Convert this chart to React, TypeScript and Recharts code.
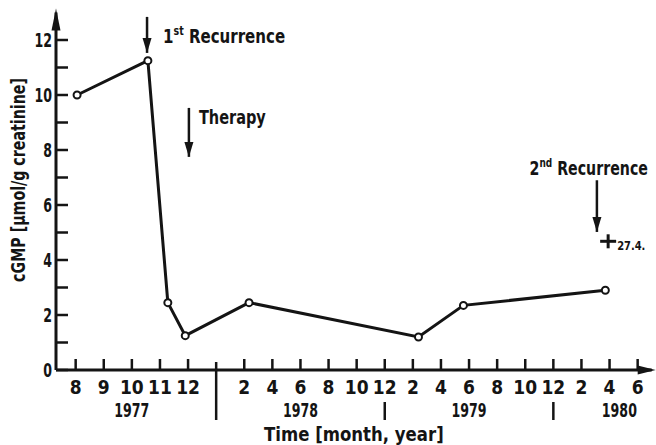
import React from "react";
import { ComposedChart, Line, XAxis, YAxis, ReferenceDot, ReferenceLine, Label } from "recharts";

// x positions are in axis-tick units (the printed time axis is not linear in time)
const xPos = [0.05, 2.57, 3.28, 3.9, 6.17, 12.2, 13.8, 18.85];
const cgmp = [10.0, 11.25, 2.45, 1.25, 2.45, 1.2, 2.35, 2.9];

const monthTickPos = [0, 1, 2, 3, 4, 6, 7, 8, 9, 10, 11, 12, 13, 14, 15, 16, 17, 18, 19, 20];
const monthTickLabels = ["8", "9", "10", "11", "12", "2", "4", "6", "8", "10", "12", "2", "4", "6", "8", "10", "12", "2", "4", "6"];
const yearLabels = ["1977", "1978", "1979", "1980"];
const yearPos = [2, 8, 14, 19.35];
const yearDividerPos = [5, 11, 17];

const yTicks = [0, 1, 2, 3, 4, 5, 6, 7, 8, 9, 10, 11, 12];

const arrowX = [2.54, 4.03, 18.55];
const arrowTop = [12.84, 9.53, 6.9];
const arrowTip = [11.53, 7.75, 5.02];
const arrowMain = ["1", "Therapy", "2"];
const arrowSup = ["st", "", "nd"];
const arrowRest = [" Recurrence", "", " Recurrence"];

const deathX = 18.95;
const deathValue = 4.68;
const deathLabel = "27.4.";

const xLabel = "Time [month, year]";
const yLabel = "cGMP [\u00b5mol/g creatinine]";

const data = xPos.map((x, i) => ({ x, v: cgmp[i] }));

const INK = "#141414";
const FONT = "'DejaVu Sans Condensed', 'DejaVu Sans', sans-serif";
const NARROW = "'Liberation Sans Narrow', 'DejaVu Sans Condensed', 'Roboto', sans-serif";

// horizontally condensed text anchored at (x, y)
const ST = (p: any) => {
  const { x, y, sx = 1, anchor = "start", size = 20, rotate, children } = p;
  const tf = rotate
    ? `translate(${x} ${y}) rotate(${rotate}) scale(${sx} 1)`
    : `matrix(${sx} 0 0 1 ${x * (1 - sx)} 0)`;
  return (
    <text
      x={rotate ? 0 : x}
      y={rotate ? 0 : y}
      transform={tf}
      textAnchor={anchor}
      fontFamily={FONT}
      fontWeight="bold"
      fontSize={size}
      fill={INK}
    >
      {children}
    </text>
  );
};

const TickMark = (props: any) => {
  const { cx, cy } = props;
  return <line x1={cx} x2={cx} y1={cy} y2={cy - 11} stroke={INK} strokeWidth={2.5} />;
};

const makeYearLabel = (label: string) => (props: any) => {
  const { cx, cy } = props;
  return (
    <ST x={cx} y={cy + 47} anchor="middle" sx={0.7}>
      {label}
    </ST>
  );
};

const makeDivider = (first: boolean) => (props: any) => {
  const { cx, cy } = props;
  return <line x1={cx} x2={cx} y1={first ? cy - 8 : cy + 32} y2={cy + 50} stroke={INK} strokeWidth={2.5} />;
};

const renderYTick = (props: any) => {
  const { x, y, payload } = props;
  const v = payload.value;
  return (
    <g key={`yt-${v}`}>
      <line x1={x} x2={x + 12} y1={y} y2={y} stroke={INK} strokeWidth={2.5} />
      {v % 2 === 0 && (
        <ST x={x - 4} y={y + 7.5} anchor="end" sx={0.7}>
          {String(v)}
        </ST>
      )}
    </g>
  );
};

const UpHead = (props: any) => {
  const { cx, cy } = props;
  return <path d={`M${cx - 4.5},${cy + 18} L${cx},${cy - 4} L${cx + 4.5},${cy + 18} Z`} fill={INK} />;
};
const RightHead = (props: any) => {
  const { cx, cy } = props;
  return <path d={`M${cx - 14},${cy - 4.5} L${cx + 4},${cy} L${cx - 14},${cy + 4.5} Z`} fill={INK} />;
};
const DownHead = (props: any) => {
  const { cx, cy } = props;
  return <path d={`M${cx - 4.5},${cy - 15} L${cx},${cy} L${cx + 4.5},${cy - 15} Z`} fill={INK} />;
};

const makeArrowText = (i: number) => (props: any) => {
  const { cx, cy } = props;
  const end = i === 2;
  const tx = end ? cx + 51 : cx + (i === 0 ? 16 : 10);
  const ty = end ? cy - 5 : cy + (i === 0 ? 26 : 16);
  return (
    <ST x={tx} y={ty} anchor={end ? "end" : "start"} size={19} sx={i === 1 ? 0.85 : i === 2 ? 0.83 : 0.88}>
      {arrowMain[i]}
      {arrowSup[i] && (
        <tspan fontSize={12} dy={-8}>
          {arrowSup[i]}
        </tspan>
      )}
      {arrowRest[i] && <tspan dy={arrowSup[i] ? 8 : 0}>{arrowRest[i]}</tspan>}
    </ST>
  );
};

const Cross = (props: any) => {
  const { cx, cy } = props;
  return (
    <g>
      <line x1={cx - 8} x2={cx + 8} y1={cy} y2={cy} stroke={INK} strokeWidth={3} />
      <line x1={cx} x2={cx} y1={cy - 7} y2={cy + 7} stroke={INK} strokeWidth={3} />
      <ST x={cx + 9} y={cy + 9} size={13} sx={0.85}>
        {deathLabel}
      </ST>
    </g>
  );
};

const monthFormatter = (v: number) => {
  const i = monthTickPos.indexOf(v);
  return i >= 0 ? monthTickLabels[i] : "";
};

export default function App() {
  return (
    <div style={{ width: 656, height: 445, background: "#fff" }}>
      <style>{`body{margin:0;background:#fff}`}</style>
      <ComposedChart width={656} height={445} data={data} margin={{ top: 12.5, right: 4.3, left: 16, bottom: 0 }}>
        <XAxis
          dataKey="x"
          type="number"
          domain={[-0.7, 20.5]}
          allowDataOverflow
          ticks={monthTickPos}
          interval={0}
          tickFormatter={monthFormatter}
          tick={{ fontFamily: NARROW, fontWeight: "bold", fontSize: 19, fill: INK }}
          tickLine={false}
          tickSize={0}
          tickMargin={11}
          height={75}
          axisLine={{ stroke: INK, strokeWidth: 3 }}
        >
          <Label
            content={(p: any) => {
              const vb = p.viewBox;
              return (
                <ST x={vb.x + vb.width / 2} y={vb.y + 71} anchor="middle" size={20} sx={0.92}>
                  {xLabel}
                </ST>
              );
            }}
          />
        </XAxis>
        <YAxis
          type="number"
          domain={[0, 13]}
          allowDataOverflow
          ticks={yTicks}
          interval={0}
          tick={renderYTick}
          tickLine={false}
          tickSize={0}
          tickMargin={0}
          width={40}
          axisLine={{ stroke: INK, strokeWidth: 3 }}
        >
          <Label
            content={(p: any) => {
              const vb = p.viewBox;
              return (
                <ST x={vb.x + 9} y={180} anchor="middle" size={20} sx={0.79} rotate={-90}>
                  {yLabel}
                </ST>
              );
            }}
          />
        </YAxis>
        {monthTickPos.map((m, i) => (
          <ReferenceDot key={`m${i}`} x={m} y={0} r={0} shape={<TickMark />} ifOverflow="visible" />
        ))}
        {yearPos.map((yp, i) => (
          <ReferenceDot key={`y${i}`} x={yp} y={0} r={0} shape={makeYearLabel(yearLabels[i])} ifOverflow="visible" />
        ))}
        {yearDividerPos.map((d, i) => (
          <ReferenceDot key={`d${i}`} x={d} y={0} r={0} shape={makeDivider(i === 0)} ifOverflow="visible" />
        ))}
        <ReferenceDot x={-0.7} y={13} r={0} shape={<UpHead />} ifOverflow="visible" />
        <ReferenceDot x={20.5} y={0} r={0} shape={<RightHead />} ifOverflow="visible" />
        {arrowX.map((ax, i) => (
          <ReferenceLine
            key={`s${i}`}
            segment={[
              { x: ax, y: arrowTop[i] },
              { x: ax, y: arrowTip[i] },
            ]}
            stroke={INK}
            strokeWidth={2.5}
            ifOverflow="visible"
          />
        ))}
        {arrowX.map((ax, i) => (
          <ReferenceDot key={`h${i}`} x={ax} y={arrowTip[i]} r={0} shape={<DownHead />} ifOverflow="visible" />
        ))}
        {arrowX.map((ax, i) => (
          <ReferenceDot key={`t${i}`} x={ax} y={arrowTop[i]} r={0} shape={makeArrowText(i)} ifOverflow="visible" />
        ))}
        <ReferenceDot x={deathX} y={deathValue} r={0} shape={<Cross />} ifOverflow="visible" />
        <Line
          dataKey="v"
          type="linear"
          stroke={INK}
          strokeWidth={3}
          dot={{ r: 3.5, stroke: INK, strokeWidth: 2, fill: "#fff" }}
          isAnimationActive={false}
        />
      </ComposedChart>
    </div>
  );
}
